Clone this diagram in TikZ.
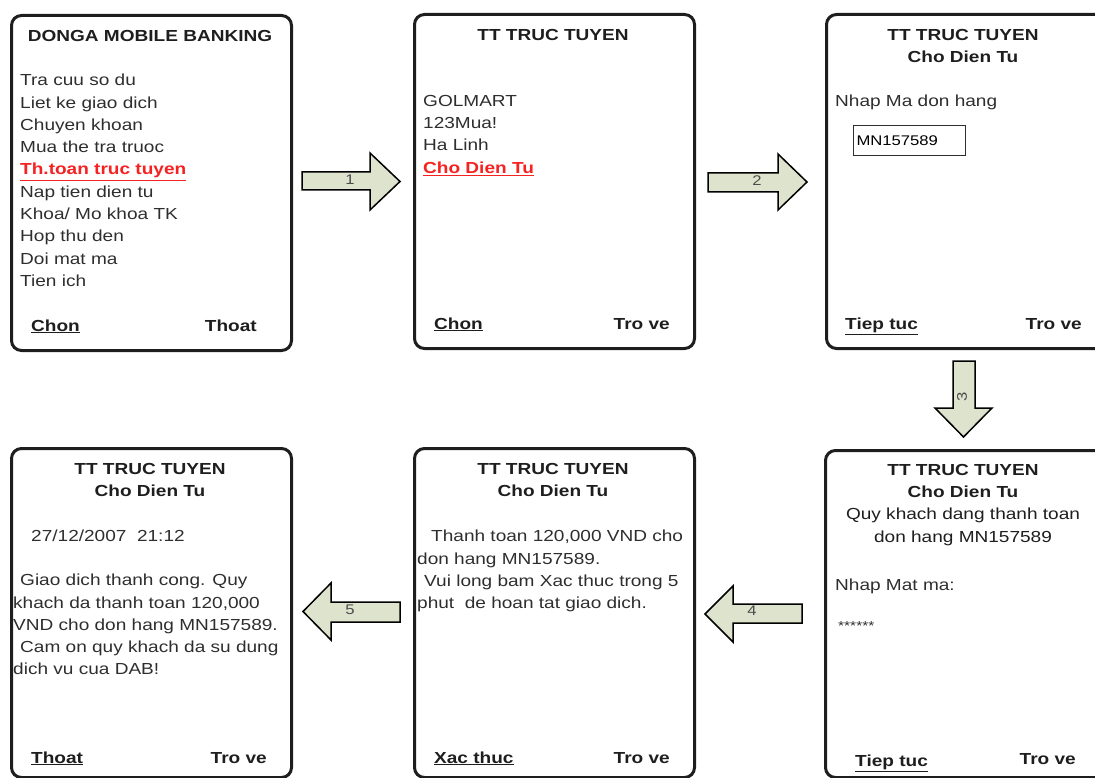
\documentclass[tikz,border=0pt]{standalone}
\usepackage{fontspec}
\setmainfont{Liberation Sans}[FakeStretch=1.19]
\usepackage{tikz}
\usetikzlibrary{positioning}
\definecolor{scrframe}{HTML}{1E1E1E}
\definecolor{scrink}{HTML}{2E2E2E}
\definecolor{hotred}{HTML}{F52222}
\definecolor{arrowfill}{HTML}{DDE3CC}
\newcommand{\hot}[1]{\textcolor{hotred}{\bfseries\underline{#1}}}
\tikzset{
  screen/.style = {draw=scrframe, line width=3pt, rounded corners=10pt,
    inner sep=0pt, anchor=north west},
  scrtitle/.style = {align=center, anchor=north, inner sep=0pt,
    font=\bfseries\fontsize{16}{22.3}\selectfont, text=scrframe},
  scrtext/.style = {align=left, anchor=north west, inner sep=0pt,
    font=\fontsize{16}{22.3}\selectfont, text=scrink},
  softkey/.style = {anchor=base west, inner sep=0pt,
    font=\bfseries\fontsize{16}{20}\selectfont, text=scrframe},
  inputbox/.style = {draw=scrink, line width=1pt, anchor=north west,
    minimum width=112pt, minimum height=30pt, inner xsep=3pt,
    text width=106pt, align=left, font=\fontsize{14}{14}\selectfont},
  flowarrow/.style = {draw=black, line width=1.5pt, fill=arrowfill,
    line join=miter},
  stepnum/.style = {inner sep=0pt, text=black!70,
    font=\fontsize{14}{14}\selectfont}
}

\begin{document}
\begin{tikzpicture}[x=1pt,y=-1pt]
\useasboundingbox (0,0) rectangle (1095,778);
% upper row
\node (menu) [screen, minimum width=280pt, minimum height=335pt] at (10,14) {};
\node (shops) [screen, minimum width=280pt, minimum height=334pt] at (413,13) {};
\node (order) [screen, minimum width=290pt, minimum height=334pt] at (825,13) {};
% lower row
\node (done) [screen, minimum width=280pt, minimum height=329pt] at (10,447) {};
\node (confirm) [screen, minimum width=280pt, minimum height=329pt] at (413,447) {};
\node (pin) [screen, minimum width=290pt, minimum height=327pt] at (824,449) {};
%
\node (menu_t) [scrtitle] at (150,30) {DONGA MOBILE BANKING};
\node (menu_l) [scrtext] at (20,74) {Tra cuu so du\\Liet ke giao dich\\Chuyen khoan\\
  Mua the tra truoc\\\hot{Th.toan truc tuyen}\\Nap tien dien tu\\Khoa/ Mo khoa TK\\
  Hop thu den\\Doi mat ma\\Tien ich};
\node (menu_ok) [softkey] at (31,331) {\underline{Chon}};
\node (menu_no) [softkey, anchor=base east] at (257,331) {Thoat};
%
\node (shops_t) [scrtitle] at (553,29) {TT TRUC TUYEN};
\node (shops_l) [scrtext] at (423,95) {GOLMART\\123Mua!\\Ha Linh\\\hot{Cho Dien Tu}};
\node (shops_ok) [softkey] at (434,329) {\underline{Chon}};
\node (shops_no) [softkey, anchor=base east] at (670,329) {Tro ve};
%
\node (order_t) [scrtitle] at (963,29) {TT TRUC TUYEN\\Cho Dien Tu};
\node (order_l) [scrtext] at (835,95) {Nhap Ma don hang};
\node (code) [inputbox] at (853,125) {MN157589};
\node (order_ok) [softkey] at (845,329) {\underline{Tiep tuc}};
\node (order_no) [softkey, anchor=base east] at (1082,329) {Tro ve};
%
\node (pin_t) [scrtitle] at (963,464) {TT TRUC TUYEN\\Cho Dien Tu\\
  \mdseries Quy khach dang thanh toan\\\mdseries don hang MN157589};
\node (pin_l) [scrtext] at (835,579) {Nhap Mat ma:};
\node (pin_star) [scrtext, anchor=base west, font=\fontsize{13}{13}\selectfont] at (838,630) {******};
\node (pin_ok) [softkey] at (855,766) {\underline{Tiep tuc}};
\node (pin_no) [softkey, anchor=base east] at (1076,764) {Tro ve};
%
\node (confirm_t) [scrtitle] at (553,463) {TT TRUC TUYEN\\Cho Dien Tu};
\node (confirm_l) [scrtext] at (417,530) {\hspace*{14pt}Thanh toan 120,000 VND cho\\
  don hang MN157589.\\\hspace*{7pt}Vui long bam Xac thuc trong 5\\
  phut\ \ de hoan tat giao dich.};
\node (confirm_ok) [softkey] at (434,763) {\underline{Xac thuc}};
\node (confirm_no) [softkey, anchor=base east] at (670,763) {Tro ve};
%
\node (done_t) [scrtitle] at (150,463) {TT TRUC TUYEN\\Cho Dien Tu};
\node (done_d) [scrtext] at (31,530) {27/12/2007\ \ 21:12};
\node (done_l) [scrtext] at (13,574) {\hspace*{7pt}Giao dich thanh cong. Quy\\
  khach da thanh toan 120,000\\VND cho don hang MN157589.\\
  \hspace*{7pt}Cam on quy khach da su dung\\dich vu cua DAB!};
\node (done_ok) [softkey] at (31,763) {\underline{Thoat}};
\node (done_no) [softkey, anchor=base east] at (267,763) {Tro ve};
%
% step arrows
\draw[flowarrow] (302,172) -- (370,172) -- (370,153) -- (400,181.5)
  -- (370,210) -- (370,190) -- (302,190) -- cycle;
\node (s1) [stepnum] at (350,180) {1};
\draw[flowarrow] (708,173) -- (778,173) -- (778,154) -- (807,182)
  -- (778,210) -- (778,192) -- (708,192) -- cycle;
\node (s2) [stepnum] at (757,181) {2};
\draw[flowarrow] (953,361) -- (975,361) -- (975,408) -- (992,408)
  -- (963.5,437) -- (935,408) -- (953,408) -- cycle;
\node (s3) [stepnum, rotate=90] at (962,397) {3};
\draw[flowarrow] (802,604) -- (733,604) -- (733,586) -- (705,614)
  -- (733,642) -- (733,623) -- (802,623) -- cycle;
\node (s4) [stepnum] at (752,611) {4};
\draw[flowarrow] (400,602) -- (331,602) -- (331,583) -- (303,611.5)
  -- (331,640) -- (331,622) -- (400,622) -- cycle;
\node (s5) [stepnum] at (350,610) {5};
\end{tikzpicture}
\end{document}
